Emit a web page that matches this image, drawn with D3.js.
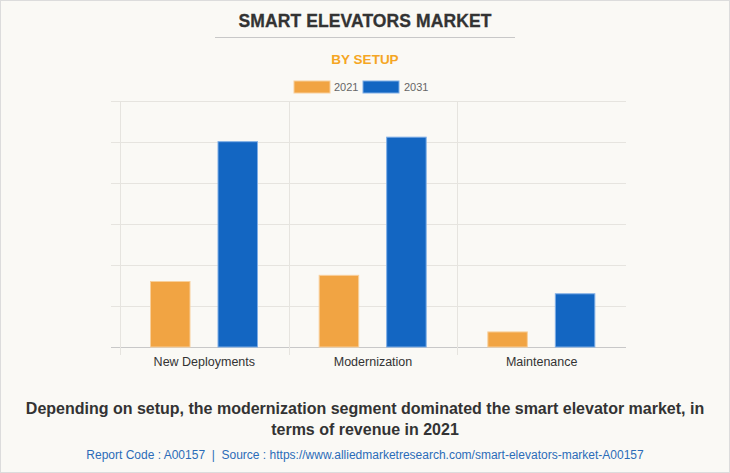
<!DOCTYPE html>
<html><head><meta charset="utf-8">
<script src="https://cdn.jsdelivr.net/npm/d3@7"></script>
<style>
body{margin:0;background:#fff;}
svg{display:block;font-family:"Liberation Sans",Arial,sans-serif;}
text{white-space:pre;}
</style></head>
<body>
<svg id="c" width="730" height="473"></svg>
<script>
const categories = ["New Deployments","Modernization","Maintenance"];
const seriesNames = ["2021","2031"];
const values2021 = [1.61, 1.76, 0.38];
const values2031 = [5.02, 5.13, 1.31];
const yTicks = [0,1,2,3,4,5,6];
const colors = ["#F1A443","#1366C2"];
const strokes = ["#F8CF9B","#7FAEE6"];

const svg = d3.select("#c");
svg.append("rect").attr("x",0.5).attr("y",0.5).attr("width",729).attr("height",472)
  .attr("fill","#FAF9F5").attr("stroke","#DCDCDC");

svg.append("text").attr("x",365).attr("y",27).attr("text-anchor","middle")
  .attr("font-size",17.5).attr("font-weight","bold").attr("fill","#333").attr("letter-spacing",0.1)
  .attr("stroke","#333").attr("stroke-width",0.3)
  .text("SMART ELEVATORS MARKET");
svg.append("line").attr("x1",215).attr("x2",515).attr("y1",37.5).attr("y2",37.5).attr("stroke","#C8C8C8");
svg.append("text").attr("x",365).attr("y",64).attr("text-anchor","middle")
  .attr("font-size",13.5).attr("font-weight","bold").attr("fill","#F5A623")
  .text("BY SETUP");

// legend
const leg = [{x:294,tx:334},{x:363,tx:404}];
seriesNames.forEach((s,i)=>{
  svg.append("rect").attr("x",leg[i].x).attr("y",81).attr("width",36).attr("height",12)
    .attr("fill",colors[i]).attr("stroke",strokes[i]);
  svg.append("text").attr("x",leg[i].tx).attr("y",91).attr("font-size",11).attr("fill","#666").text(s);
});

const x0 = d3.scaleBand().domain(categories).range([120,626]).padding(0);
const x1 = d3.scaleBand().domain(seriesNames).range([30,138]).paddingInner(0.4).paddingOuter(0);
const y = d3.scaleLinear().domain([0,6]).range([347,101]);

const g = svg.append("g");
// horizontal grid
g.selectAll(".hg").data(yTicks).join("line")
  .attr("x1",111).attr("x2",626).attr("y1",d=>Math.round(y(d))+0.5).attr("y2",d=>Math.round(y(d))+0.5)
  .attr("stroke",d=>d===0?"#C8C8C8":"#E6E4DF");
// vertical separators
const seps = categories.map(c=>Math.round(x0(c)));
g.selectAll(".vg").data(seps).join("line")
  .attr("x1",d=>d+0.5).attr("x2",d=>d+0.5).attr("y1",101).attr("y2",355)
  .attr("stroke","#E6E4DF");

const data = categories.map((c,i)=>({cat:c, vals:[values2021[i],values2031[i]]}));
const grp = g.selectAll(".grp").data(data).join("g").attr("transform",d=>`translate(${x0(d.cat)},0)`);
grp.selectAll("rect").data(d=>d.vals.map((v,i)=>({v,i}))).join("rect")
  .attr("x",d=>x1(seriesNames[d.i])+0.5)
  .attr("width",x1.bandwidth()-1)
  .attr("y",d=>y(d.v)+0.5)
  .attr("height",d=>y(0)-y(d.v)-0.5)
  .attr("fill",d=>colors[d.i]).attr("stroke",d=>strokes[d.i]).attr("stroke-width",1);

// x axis labels
const xAxis = d3.axisBottom(x0).tickSize(0).tickPadding(10);
const ax = svg.append("g").attr("transform","translate(0,347)").call(xAxis);
ax.select(".domain").remove();
ax.selectAll("text").attr("font-size",12.5).attr("fill","#333").attr("font-family","Liberation Sans, Arial, sans-serif");

// caption
svg.append("text").attr("x",365).attr("y",414).attr("text-anchor","middle")
  .attr("font-size",16).attr("font-weight","bold").attr("fill","#333")
  .text("Depending on setup, the modernization segment dominated the smart elevator market, in");
svg.append("text").attr("x",365).attr("y",435).attr("text-anchor","middle")
  .attr("font-size",16).attr("font-weight","bold").attr("fill","#333")
  .text("terms of revenue in 2021");
svg.append("text").attr("x",365).attr("y",459).attr("text-anchor","middle")
  .attr("font-size",12).attr("fill","#2B6CB8")
  .text("Report Code : A00157  |  Source : https://www.alliedmarketresearch.com/smart-elevators-market-A00157");
</script>
</body></html>
